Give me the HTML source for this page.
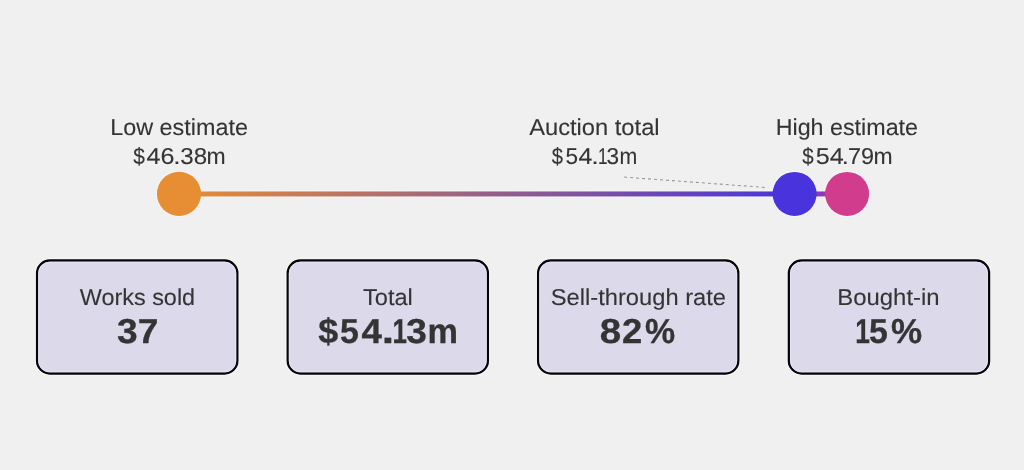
<!DOCTYPE html>
<html lang="en">
<head>
<meta charset="utf-8">
<title>Auction results</title>
<style>
  html, body { margin: 0; padding: 0; background: #f0f0f0; }
  body { width: 1024px; height: 470px; overflow: hidden; }
  svg { display: block; }
  text { font-family: "Liberation Sans", sans-serif; fill: #343434; stroke: #343434; stroke-linejoin: round; text-anchor: start; text-rendering: geometricPrecision; }
  .lbl { font-size: 23.0px; stroke-width: 0.1px; }
  .big { font-size: 34.7px; font-weight: bold; stroke-width: 0.3px; }
  .card { fill: #dbd9ea; stroke: #050505; stroke-width: 2.3; }
  .halo-o { fill: none; stroke: #ffffff; stroke-width: 1; opacity: 0.8; }
  .halo-i { fill: none; stroke: #e9e7fb; stroke-width: 1; opacity: 0.8; }
  .halo-c { fill: none; stroke: #f8fafd; stroke-width: 1; opacity: 0.75; }
</style>
</head>
<body>
<svg width="1024" height="470" viewBox="0 0 1024 470">
  <defs>
    <linearGradient id="g" gradientUnits="userSpaceOnUse" x1="179" y1="0" x2="847" y2="0">
      <stop offset="0" stop-color="#e78d33"/>
      <stop offset="0.921" stop-color="#4833dd"/>
      <stop offset="1" stop-color="#d13c8c"/>
    </linearGradient>
  </defs>
  <rect x="0" y="0" width="1024" height="470" fill="#f0f0f0"/>

  <!-- estimate range line -->
  <rect x="201.3" y="190.45" width="571.2" height="7" fill="#f8fafd" opacity="0.75"/>
  <rect x="816.8" y="190.45" width="8.1" height="7" fill="#f8fafd" opacity="0.75"/>
  <circle class="halo-c" cx="179" cy="193.9" r="22.6"/>
  <circle class="halo-c" cx="794.6" cy="193.9" r="22.5"/>
  <circle class="halo-c" cx="847.1" cy="193.9" r="22.5"/>
  <rect x="179" y="191.45" width="668" height="5" fill="url(#g)"/>
  <line x1="624.1" y1="177.1" x2="764.8" y2="187.4" stroke="#969696" stroke-width="1.05" stroke-dasharray="3 3"/>
  <circle cx="179" cy="193.9" r="22.1" fill="#e78d33"/>
  <circle cx="794.6" cy="193.9" r="22" fill="#4833dd"/>
  <circle cx="847.1" cy="193.9" r="22" fill="#d13c8c"/>

  <!-- stat cards -->
  <rect class="halo-o" x="35.45" y="258.90" width="203.50" height="116.20" rx="14.4" ry="14.4"/>
  <rect class="card" x="37.05" y="260.50" width="200.30" height="113.00" rx="12.8" ry="12.8"/>
  <rect class="halo-i" x="38.65" y="262.10" width="197.10" height="109.80" rx="11.2" ry="11.2"/>
  <rect class="halo-o" x="286.10" y="258.90" width="203.40" height="116.20" rx="14.4" ry="14.4"/>
  <rect class="card" x="287.70" y="260.50" width="200.20" height="113.00" rx="12.8" ry="12.8"/>
  <rect class="halo-i" x="289.30" y="262.10" width="197.00" height="109.80" rx="11.2" ry="11.2"/>
  <rect class="halo-o" x="536.50" y="258.90" width="203.40" height="116.20" rx="14.4" ry="14.4"/>
  <rect class="card" x="538.10" y="260.50" width="200.20" height="113.00" rx="12.8" ry="12.8"/>
  <rect class="halo-i" x="539.70" y="262.10" width="197.00" height="109.80" rx="11.2" ry="11.2"/>
  <rect class="halo-o" x="787.26" y="258.90" width="203.44" height="116.20" rx="14.4" ry="14.4"/>
  <rect class="card" x="788.86" y="260.50" width="200.24" height="113.00" rx="12.8" ry="12.8"/>
  <rect class="halo-i" x="790.46" y="262.10" width="197.04" height="109.80" rx="11.2" ry="11.2"/>

  <!-- text -->
  <text class="lbl" x="110.25" y="135.4" textLength="137.66" lengthAdjust="spacingAndGlyphs">Low estimate</text>
  <text class="lbl" y="163.95"><tspan x="133.22" textLength="11.66" lengthAdjust="spacingAndGlyphs">$</tspan><tspan x="146.54" textLength="27.91" lengthAdjust="spacingAndGlyphs">46</tspan><tspan x="173.35" textLength="7.29" lengthAdjust="spacingAndGlyphs">.</tspan><tspan x="180.38" textLength="26.76" lengthAdjust="spacingAndGlyphs">38</tspan><tspan x="206.62" textLength="19.14" lengthAdjust="spacingAndGlyphs">m</tspan></text>
  <text class="lbl" x="529.20" y="135.4" textLength="130.40" lengthAdjust="spacingAndGlyphs">Auction total</text>
  <text class="lbl" y="163.95"><tspan x="551.83" textLength="11.24" lengthAdjust="spacingAndGlyphs">$</tspan><tspan x="565.55" textLength="12.55" lengthAdjust="spacingAndGlyphs">5</tspan><tspan x="578.48" textLength="13.80" lengthAdjust="spacingAndGlyphs">4</tspan><tspan x="591.36" textLength="7.59" lengthAdjust="spacingAndGlyphs">.</tspan><tspan x="597.90" textLength="9.59" lengthAdjust="spacingAndGlyphs">1</tspan><tspan x="606.49" textLength="12.55" lengthAdjust="spacingAndGlyphs">3</tspan><tspan x="619.43" textLength="17.83" lengthAdjust="spacingAndGlyphs">m</tspan></text>
  <text class="lbl" x="775.65" y="135.4" textLength="142.41" lengthAdjust="spacingAndGlyphs">High estimate</text>
  <text class="lbl" y="163.95"><tspan x="802.13" textLength="11.45" lengthAdjust="spacingAndGlyphs">$</tspan><tspan x="815.70" textLength="27.96" lengthAdjust="spacingAndGlyphs">54</tspan><tspan x="841.65" textLength="7.00" lengthAdjust="spacingAndGlyphs">.</tspan><tspan x="848.05" textLength="26.12" lengthAdjust="spacingAndGlyphs">79</tspan><tspan x="873.52" textLength="19.14" lengthAdjust="spacingAndGlyphs">m</tspan></text>
  <text class="lbl" x="79.80" y="304.8" textLength="115.30" lengthAdjust="spacingAndGlyphs">Works sold</text>
  <text class="big" x="117.10" y="343.1" textLength="41.34" lengthAdjust="spacingAndGlyphs">37</text>
  <text class="lbl" x="363.05" y="304.8" textLength="49.80" lengthAdjust="spacingAndGlyphs">Total</text>
  <text class="big" y="343.1"><tspan x="318.18" textLength="19.98" lengthAdjust="spacingAndGlyphs">$</tspan><tspan x="340.06" textLength="18.83" lengthAdjust="spacingAndGlyphs">5</tspan><tspan x="361.64" textLength="20.40" lengthAdjust="spacingAndGlyphs">4</tspan><tspan x="381.82" textLength="12.40" lengthAdjust="spacingAndGlyphs">.</tspan><tspan x="392.59" textLength="14.47" lengthAdjust="spacingAndGlyphs">1</tspan><tspan x="406.25" textLength="20.64" lengthAdjust="spacingAndGlyphs">3</tspan><tspan x="427.49" textLength="30.49" lengthAdjust="spacingAndGlyphs">m</tspan></text>
  <text class="lbl" x="550.80" y="304.8" textLength="175.20" lengthAdjust="spacingAndGlyphs">Sell-through rate</text>
  <text class="big" y="343.1"><tspan x="599.83" textLength="21.41" lengthAdjust="spacingAndGlyphs">8</tspan><tspan x="621.99" textLength="20.27" lengthAdjust="spacingAndGlyphs">2</tspan><tspan x="644.91" textLength="30.14" lengthAdjust="spacingAndGlyphs">%</tspan></text>
  <text class="lbl" x="837.30" y="304.8" textLength="102.31" lengthAdjust="spacingAndGlyphs">Bought-in</text>
  <text class="big" y="343.1"><tspan x="855.34" textLength="14.67" lengthAdjust="spacingAndGlyphs">1</tspan><tspan x="869.01" textLength="18.85" lengthAdjust="spacingAndGlyphs">5</tspan><tspan x="891.03" textLength="31.15" lengthAdjust="spacingAndGlyphs">%</tspan></text>
</svg>
</body>
</html>
